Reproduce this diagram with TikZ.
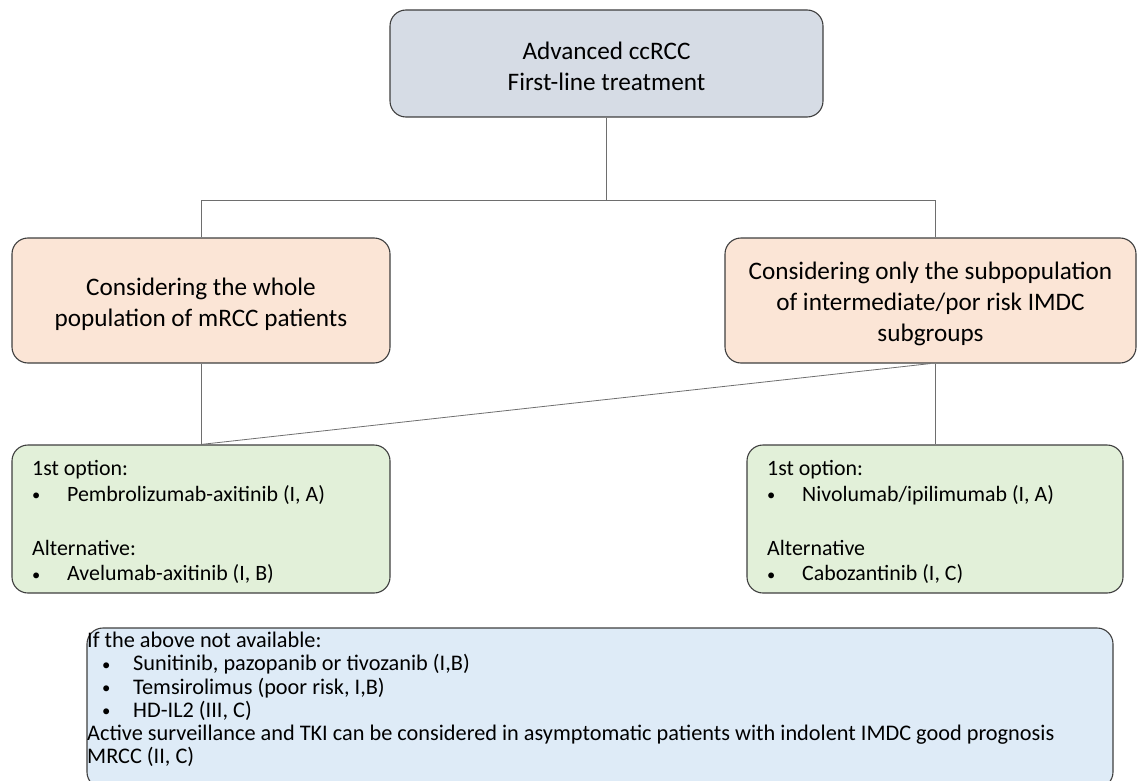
\documentclass[tikz,border=0pt]{standalone}
\usepackage{fontspec}
\usepackage{graphicx}
\setmainfont{Carlito}
\definecolor{topfill}{HTML}{D6DCE5}
\definecolor{orfill}{HTML}{FBE5D6}
\definecolor{grfill}{HTML}{E2F0D9}
\definecolor{blfill}{HTML}{DEEBF7}
\definecolor{edge}{HTML}{3F3F3F}
\definecolor{connc}{HTML}{6E6E6E}
\newcommand{\bul}{\raisebox{0.5pt}{\scalebox{0.75}{•}}}
\begin{document}
\begin{tikzpicture}[x=1pt,y=-1pt,
  box/.style={draw=edge,line width=1.1pt,rounded corners=16pt,inner sep=0pt},
  conn/.style={draw=connc,line width=0.8pt},
  lbl/.style={inner sep=0pt,align=center,font=\fontsize{25.2}{31}\selectfont},
  gtxt/.style={inner sep=0pt,align=flush left,text width=338pt,font=\fontsize{21.9}{25.5}\selectfont}]
\clip (0,0) rectangle (1137,781);
\useasboundingbox (0,0) rectangle (1137,781);
% boxes
\node[box,fill=topfill,minimum width=433pt,minimum height=107pt] (top) at (606.5,63.5) {};
\node[lbl] (toptxt) at (606.5,66) {Advanced ccRCC\\First-line treatment};
\node[box,fill=orfill,minimum width=378pt,minimum height=125pt] (lor) at (201,300.5) {};
\node[lbl] (lortxt) at (201,304) {Considering the whole\\population of mRCC patients};
\node[box,fill=orfill,minimum width=411pt,minimum height=125pt] (ror) at (930.5,300.5) {};
\node[lbl] (rortxt) at (930.5,304) {Considering only the subpopulation\\of intermediate/por risk IMDC\\subgroups};
\node[box,fill=grfill,minimum width=378pt,minimum height=148pt] (lgr) at (201,519) {};
\node[gtxt,anchor=west] (lgrtxt) at (32,522)
  {1st option:\\\makebox[35pt][l]{\bul}Pembrolizumab-axitinib (I, A)\\[28.5pt]
   Alternative:\\\makebox[35pt][l]{\bul}Avelumab-axitinib (I, B)};
\node[box,fill=grfill,minimum width=376pt,minimum height=148pt] (rgr) at (935,519) {};
\node[gtxt,anchor=west] (rgrtxt) at (767,522)
  {1st option:\\\makebox[35pt][l]{\bul}Nivolumab/ipilimumab (I, A)\\[28.5pt]
   Alternative\\\makebox[35pt][l]{\bul}Cabozantinib (I, C)};
\node[box,fill=blfill,minimum width=1026pt,minimum height=160pt] (avail) at (600,708) {};
\node[anchor=north west,inner sep=0pt,align=left,
  font=\fontsize{22.3}{23.2}\selectfont] (availtxt) at (87,632)
  {If the above not available:\\
   \hspace*{15pt}\makebox[31pt][l]{\bul}Sunitinib, pazopanib or tivozanib (I,B)\\
   \hspace*{15pt}\makebox[31pt][l]{\bul}Temsirolimus (poor risk, I,B)\\
   \hspace*{15pt}\makebox[31pt][l]{\bul}HD-IL2 (III, C)\\
   Active surveillance and TKI can be considered in asymptomatic patients with indolent IMDC good prognosis\\
   MRCC (II, C)};
% connectors
\coordinate (j) at (606.5,200);
\draw[conn] (top.south) -- (j);
\draw[conn] (lor.north) |- (j);
\draw[conn] (j) -| (rgr.north |- ror.north);
\draw[conn] (lor.south) -- (lgr.north);
\draw[conn] (ror.south) -- (lgr.north);
\draw[conn] (rgr.north |- ror.south) -- (rgr.north);
\end{tikzpicture}
\end{document}
